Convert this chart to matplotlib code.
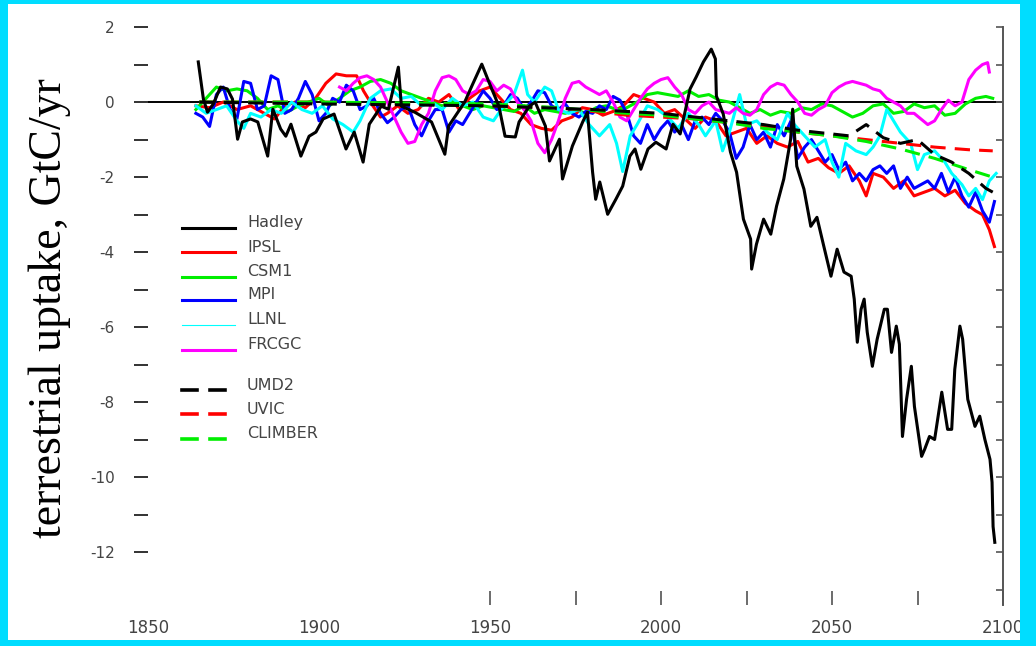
import matplotlib
matplotlib.use("Agg")
import matplotlib.pyplot as plt
from matplotlib.patches import Rectangle
from matplotlib.lines import Line2D

# ---------------- data (year, GtC/yr) ----------------
HADLEY = [(1864.7, 1.07), (1866.2, 0.08), (1867.4, -0.27), (1869.1, -0.05), (1871.2, 0.40), (1873.2, 0.35),
          (1874.7, 0.08), (1876.2, -0.99), (1877.6, -0.53), (1880.0, -0.45), (1882.1, -0.53), (1885.0, -1.44),
          (1886.5, -0.19), (1888.8, -0.72), (1890.3, -0.91), (1891.8, -0.59), (1894.7, -1.44), (1897.1, -0.91),
          (1899.1, -0.80), (1901.2, -0.45), (1904.4, -0.32), (1907.9, -1.25), (1910.3, -0.80), (1912.9, -1.60),
          (1914.7, -0.59), (1918.2, -0.11), (1920.3, -0.19), (1923.2, 0.93), (1924.1, -0.11), (1928.0, -0.27),
          (1932.9, -0.53), (1936.8, -1.39), (1937.9, -0.64), (1942.6, 0.0), (1944.7, 0.43), (1947.6, 1.01),
          (1949.7, 0.53), (1952.6, -0.11), (1954.4, -0.91), (1957.4, -0.93), (1958.5, -0.53), (1961.5, -0.11),
          (1963.2, 0.0), (1966.2, -0.64), (1967.4, -1.57), (1970.3, -0.99), (1971.2, -2.05), (1974.1, -1.17),
          (1977.1, -0.53), (1978.5, -0.27), (1980.0, -1.87), (1980.9, -2.59), (1982.1, -2.13), (1984.4, -2.99),
          (1986.8, -2.59), (1988.8, -2.24), (1990.9, -1.44), (1992.4, -1.25), (1994.1, -1.79), (1996.2, -1.25),
          (1998.5, -1.07), (2001.5, -1.25), (2003.5, -0.59), (2005.6, -0.85), (2008.5, 0.35), (2010.3, 0.67),
          (2012.4, 1.07), (2014.7, 1.41), (2015.9, 1.15), (2016.2, 0.16), (2018.2, -0.32), (2020.3, -1.33),
          (2022.1, -1.87), (2024.1, -3.12), (2026.2, -3.65), (2026.5, -4.45), (2027.9, -3.79), (2030.0, -3.12),
          (2032.1, -3.52), (2033.8, -2.77), (2035.9, -2.05), (2037.9, -0.99), (2038.5, -0.19), (2039.7, -1.71),
          (2041.8, -2.32), (2043.8, -3.31), (2045.6, -3.07), (2047.6, -3.84), (2049.7, -4.64), (2051.5, -3.92),
          (2053.5, -4.53), (2055.6, -4.64), (2056.5, -5.25), (2057.4, -6.40), (2058.5, -5.52), (2059.4, -5.25),
          (2060.3, -6.13), (2061.8, -7.04), (2063.2, -6.32), (2065.3, -5.52), (2066.2, -5.52), (2067.4, -6.67),
          (2068.8, -5.97), (2069.7, -6.45), (2070.6, -8.91), (2071.8, -7.92), (2073.2, -7.04), (2074.1, -8.11),
          (2076.2, -9.44), (2077.1, -9.25), (2078.5, -8.91), (2080.0, -8.99), (2082.1, -7.73), (2083.8, -8.72),
          (2085.0, -8.72), (2085.9, -7.12), (2087.4, -5.97), (2088.2, -6.32), (2089.7, -7.92), (2091.8, -8.64),
          (2093.2, -8.37), (2094.7, -8.99), (2096.2, -9.52), (2096.8, -10.13), (2097.1, -11.31), (2097.6, -11.73)]

IPSL = [(1864, -0.1), (1868, -0.15), (1872, 0.0), (1876, -0.2), (1880, -0.1), (1884, -0.3), (1887, -0.45),
        (1890, -0.1), (1893, 0.0), (1896, -0.15), (1899, 0.1), (1902, 0.5), (1905, 0.75), (1908, 0.7),
        (1911, 0.7), (1913, 0.3), (1915, 0.0), (1918, -0.4), (1920, -0.3), (1923, -0.1), (1926, -0.3),
        (1929, -0.2), (1932, 0.1), (1935, 0.0), (1938, 0.2), (1941, -0.2), (1944, 0.1), (1947, 0.3),
        (1950, 0.4), (1953, 0.1), (1956, -0.2), (1959, -0.3), (1962, -0.6), (1965, -0.7), (1968, -0.75),
        (1971, -0.5), (1974, -0.4), (1977, -0.15), (1980, -0.2), (1983, -0.35), (1986, -0.25), (1989, -0.1),
        (1992, 0.2), (1995, 0.1), (1998, 0.0), (2001, -0.3), (2004, -0.2), (2007, -0.45), (2010, -0.7),
        (2013, -0.4), (2016, -0.5), (2019, -0.9), (2022, -0.8), (2025, -0.7), (2028, -1.1), (2031, -0.9),
        (2034, -1.1), (2037, -1.2), (2040, -1.05), (2043, -1.6), (2046, -1.5), (2049, -1.75), (2052, -1.9),
        (2055, -1.7), (2058, -2.1), (2060, -2.5), (2062, -1.9), (2065, -2.0), (2068, -2.3), (2071, -2.1),
        (2074, -2.5), (2077, -2.4), (2080, -2.3), (2083, -2.5), (2086, -2.35), (2089, -2.7), (2092, -2.9),
        (2094, -3.0), (2096, -3.4), (2097.5, -3.85)]

CSM1 = [(1864, -0.2), (1867, 0.1), (1870, 0.4), (1873, 0.3), (1876, 0.35), (1879, 0.3), (1882, 0.1),
        (1885, -0.2), (1888, -0.1), (1891, -0.25), (1894, -0.1), (1897, 0.0), (1900, 0.1), (1903, -0.1),
        (1906, 0.1), (1909, 0.3), (1912, 0.4), (1915, 0.55), (1918, 0.6), (1921, 0.5), (1924, 0.3),
        (1927, 0.2), (1930, 0.1), (1933, 0.0), (1936, -0.1), (1939, 0.0), (1942, -0.1), (1945, -0.2),
        (1948, -0.1), (1951, -0.15), (1954, -0.2), (1957, -0.25), (1960, -0.1), (1963, -0.3), (1966, -0.2),
        (1969, -0.25), (1972, -0.3), (1975, -0.2), (1978, -0.3), (1981, -0.15), (1984, -0.1), (1987, -0.2),
        (1990, -0.15), (1993, 0.0), (1996, 0.2), (1999, 0.25), (2002, 0.2), (2005, 0.15), (2008, 0.3),
        (2011, 0.15), (2014, 0.2), (2017, 0.05), (2020, 0.0), (2023, -0.15), (2026, -0.3), (2029, -0.2),
        (2032, -0.35), (2035, -0.25), (2038, -0.3), (2041, -0.15), (2044, -0.2), (2047, -0.05), (2050, -0.1),
        (2053, -0.25), (2056, -0.4), (2059, -0.3), (2062, -0.1), (2065, -0.05), (2068, -0.3), (2071, -0.25),
        (2074, -0.05), (2077, -0.15), (2080, -0.1), (2083, -0.35), (2086, -0.3), (2089, -0.05), (2092, 0.1),
        (2095, 0.15), (2097, 0.1)]

MPI = [(1864, -0.3), (1866, -0.4), (1868, -0.65), (1870, 0.2), (1872, 0.4), (1874, -0.2), (1876, -0.45),
       (1878, 0.55), (1880, 0.5), (1882, -0.2), (1884, -0.1), (1886, 0.7), (1888, 0.6), (1890, -0.3),
       (1892, -0.2), (1894, 0.1), (1896, 0.55), (1898, 0.2), (1900, -0.5), (1902, -0.3), (1904, 0.1),
       (1906, 0.0), (1908, 0.45), (1910, 0.3), (1912, -0.2), (1914, -0.1), (1916, 0.1), (1918, -0.3),
       (1920, -0.55), (1922, -0.4), (1924, -0.2), (1926, -0.1), (1928, -0.6), (1930, -0.9), (1932, -0.5),
       (1934, -0.2), (1936, -0.2), (1938, -0.8), (1940, -0.5), (1942, -0.6), (1944, -0.3), (1946, 0.0),
       (1948, 0.3), (1950, 0.1), (1952, -0.2), (1954, -0.1), (1956, 0.2), (1958, 0.1), (1960, -0.2),
       (1962, 0.0), (1964, 0.3), (1966, 0.25), (1968, -0.1), (1970, -0.2), (1972, -0.05), (1974, -0.3),
       (1976, -0.4), (1978, -0.25), (1980, -0.3), (1982, -0.1), (1984, -0.2), (1986, 0.15), (1988, 0.05),
       (1990, -0.3), (1992, -0.9), (1994, -1.1), (1996, -0.6), (1998, -1.0), (2000, -0.7), (2002, -0.5),
       (2004, -0.8), (2006, -0.6), (2008, -1.0), (2010, -0.5), (2012, -0.4), (2014, -0.6), (2016, -0.3),
       (2018, -0.5), (2020, -0.8), (2022, -1.5), (2024, -1.2), (2026, -0.6), (2028, -1.0), (2030, -0.8),
       (2032, -1.2), (2034, -0.6), (2036, -0.9), (2038, -0.5), (2040, -1.5), (2042, -1.2), (2044, -1.0),
       (2046, -1.3), (2048, -1.6), (2050, -1.4), (2052, -1.8), (2054, -1.6), (2056, -2.1), (2058, -1.9),
       (2060, -2.1), (2062, -1.8), (2064, -1.7), (2066, -1.9), (2068, -1.7), (2070, -2.3), (2072, -2.0),
       (2074, -2.3), (2076, -2.2), (2078, -2.1), (2080, -2.3), (2082, -1.9), (2084, -2.4), (2086, -2.0),
       (2088, -2.5), (2090, -2.8), (2092, -2.4), (2094, -2.9), (2096, -3.2), (2097.5, -2.65)]

LLNL = [(1864, -0.1), (1867, -0.3), (1870, -0.2), (1873, -0.1), (1876, -0.5), (1878, -0.7), (1880, -0.3),
        (1883, -0.4), (1886, -0.2), (1889, -0.3), (1892, 0.0), (1895, -0.2), (1898, -0.3), (1901, -0.1),
        (1904, -0.45), (1907, -0.6), (1910, -0.8), (1912, -0.5), (1915, 0.1), (1918, 0.3), (1921, 0.35),
        (1924, 0.1), (1927, 0.15), (1930, -0.1), (1933, 0.0), (1936, -0.2), (1939, 0.1), (1942, -0.1),
        (1945, 0.0), (1948, -0.4), (1951, -0.5), (1954, -0.1), (1957, 0.2), (1959.5, 0.85), (1961, 0.2),
        (1963, 0.0), (1966, 0.4), (1968, 0.3), (1970, -0.2), (1973, -0.3), (1976, -0.2), (1979, -0.6),
        (1982, -0.9), (1985, -0.6), (1987, -1.1), (1988.8, -1.85), (1991, -0.9), (1993, -0.6), (1996, -0.1),
        (1999, -0.2), (2002, -0.4), (2005, -0.7), (2008, -0.3), (2011, -0.6), (2013, -0.9), (2016, -0.5),
        (2018, -1.3), (2020, -0.8), (2023, 0.2), (2025, -0.6), (2028, -0.5), (2031, -0.8), (2034, -1.0),
        (2037, -0.3), (2039, -0.6), (2042, -0.9), (2045, -1.2), (2048, -1.0), (2050, -1.6), (2052, -2.0),
        (2054, -1.1), (2057, -1.3), (2060, -1.4), (2062, -1.2), (2064, -0.9), (2066, -0.2), (2068, -0.5),
        (2070, -0.8), (2073, -1.1), (2075, -1.8), (2077, -1.4), (2080, -1.3), (2083, -1.6), (2085, -1.9),
        (2088, -2.2), (2090, -2.5), (2092, -2.3), (2094, -2.6), (2096, -2.1), (2098, -1.9)]

FRCGC = [(1906, 0.4), (1908, 0.3), (1910, 0.5), (1912, 0.65), (1914, 0.7), (1916, 0.6), (1918, 0.4),
         (1920, 0.0), (1922, -0.4), (1924, -0.8), (1926, -1.1), (1928, -1.05), (1930, -0.6), (1932, -0.3),
         (1934, 0.3), (1936, 0.65), (1938, 0.7), (1940, 0.6), (1942, 0.3), (1944, 0.2), (1946, 0.3),
         (1948, 0.6), (1950, 0.55), (1952, 0.3), (1954, 0.45), (1956, 0.35), (1958, 0.0), (1960, -0.2),
         (1962, -0.5), (1964, -1.1), (1966, -1.35), (1968, -1.0), (1970, -0.5), (1972, 0.1), (1974, 0.5),
         (1976, 0.55), (1978, 0.4), (1980, 0.3), (1982, 0.2), (1984, 0.3), (1986, 0.0), (1988, -0.4),
         (1990, -0.5), (1992, -0.2), (1994, 0.1), (1996, 0.35), (1998, 0.5), (2000, 0.6), (2002, 0.65),
         (2004, 0.4), (2006, 0.2), (2008, -0.2), (2010, -0.3), (2012, -0.1), (2014, 0.0), (2016, -0.2),
         (2018, -0.25), (2020, -0.3), (2022, -0.15), (2024, -0.3), (2026, -0.35), (2028, -0.2), (2030, 0.2),
         (2032, 0.4), (2034, 0.5), (2036, 0.45), (2038, 0.2), (2040, 0.0), (2042, -0.3), (2044, -0.35),
         (2046, -0.2), (2048, -0.1), (2050, 0.25), (2052, 0.4), (2054, 0.5), (2056, 0.55), (2058, 0.5),
         (2060, 0.45), (2062, 0.35), (2064, 0.3), (2066, 0.1), (2068, 0.0), (2070, -0.1), (2072, -0.3),
         (2074, -0.3), (2076, -0.45), (2078, -0.6), (2080, -0.5), (2082, -0.2), (2084, 0.05), (2086, -0.1),
         (2088, 0.0), (2090, 0.6), (2092, 0.85), (2094, 1.0), (2095.5, 1.05), (2096, 0.8)]

UMD2 = [(1865, 0.0), (1900, -0.05), (1950, -0.1), (1980, -0.2), (2000, -0.3), (2010, -0.4), (2020, -0.5),
        (2030, -0.6), (2040, -0.75), (2050, -0.85), (2055, -0.9), (2060, -0.6), (2065, -0.95), (2070, -1.1),
        (2075, -1.0), (2080, -1.4), (2085, -1.6), (2090, -1.9), (2095, -2.3), (2097, -2.4)]

UVIC = [(1865, 0.0), (1900, 0.0), (1930, -0.05), (1950, -0.1), (1970, -0.15), (1980, -0.25), (1990, -0.35),
        (2000, -0.4), (2010, -0.45), (2020, -0.55), (2030, -0.65), (2040, -0.8), (2050, -0.9), (2060, -1.0),
        (2070, -1.1), (2080, -1.2), (2090, -1.27), (2097, -1.3)]

CLIMBER = [(1865, 0.0), (1900, 0.0), (1950, -0.05), (1970, -0.15), (1990, -0.3), (2000, -0.35), (2010, -0.45),
           (2020, -0.55), (2030, -0.7), (2040, -0.8), (2050, -0.9), (2060, -1.05), (2070, -1.25), (2080, -1.5),
           (2090, -1.8), (2097, -2.0)]

solid_names = ["Hadley", "IPSL", "CSM1", "MPI", "LLNL", "FRCGC"]
dashed_names = ["UMD2", "UVIC", "CLIMBER"]
y_tick_values = [2, 0, -2, -4, -6, -8, -10, -12]
y_tick_labels = ["2", "0", "-2", "-4", "-6", "-8", "-10", "-12"]
x_tick_values = [1850, 1900, 1950, 2000, 2050, 2100]
x_tick_labels = ["1850", "1900", "1950", "2000", "2050", "2100"]
y_label = "terrestrial uptake, GtC/yr"

# ---------------- figure ----------------
W, H = 1036, 646
BG = "#00DDFF"
fig = plt.figure(figsize=(W / 100, H / 100), dpi=100, facecolor=BG)


def fx(px):
    return px / W


def fy(py):
    return 1 - py / H


fig.add_artist(Rectangle((fx(8), fy(640)), fx(1020) - fx(8), fy(4) - fy(640),
                         transform=fig.transFigure, facecolor="white", edgecolor="none", zorder=-5))

ax_left, ax_right, ax_top, ax_bot = 148, 1003, 27, 605
ax = fig.add_axes([fx(ax_left), fy(ax_bot), fx(ax_right) - fx(ax_left), fy(ax_top) - fy(ax_bot)])
ax.set_facecolor("none")
ax.set_xlim(1850, 2100)
ax.set_ylim(-13.4, 2.0)

for s in ["left", "top", "bottom"]:
    ax.spines[s].set_visible(False)
ax.spines["right"].set_color("#555555")
ax.spines["right"].set_linewidth(1.4)

ax.set_yticks(y_tick_values)
ax.set_yticklabels(y_tick_labels)
ax.set_yticks([1, -1, -3, -5, -7, -9, -11], minor=True)
ax.tick_params(axis="y", which="both", direction="out", length=10, width=1.3, color="#222222",
               labelsize=11, labelcolor="#444444", pad=14, right=False)
ax.set_xticks(x_tick_values)
ax.set_xticklabels(x_tick_labels)
ax.set_xticks([1975, 2025, 2075], minor=True)
ax.tick_params(axis="x", which="both", direction="in", length=10, width=1.1, color="#444444",
               labelsize=12, labelcolor="#444444", pad=10)
# the reference shows no tick marks at 1850 and 1900
for t in ax.xaxis.get_major_ticks()[:2]:
    t.tick1line.set_visible(False)

ax2 = ax.twinx()
ax2.set_ylim(ax.get_ylim())
for s in ["left", "top", "bottom", "right"]:
    ax2.spines[s].set_visible(False)
ax2.set_yticks(list(range(-13, 3)))
ax2.tick_params(axis="y", direction="in", length=5, width=1.2, color="#555555", labelright=False)

# zero line
ax.axhline(0, color="black", lw=1.4, zorder=1)

LW = 2.2
series = [(IPSL, "#FF0000", "-"), (CSM1, "#00EE00", "-"), (MPI, "#0000FF", "-"),
          (LLNL, "#00FFFF", "-"), (FRCGC, "#FF00FF", "-"),
          (UVIC, "#FF0000", (0, (5, 3))), (CLIMBER, "#00EE00", (0, (5, 3))), (UMD2, "#000000", (0, (5, 3))),
          (HADLEY, "#000000", "-")]
for data, col, ls in series:
    xs, ys = zip(*data)
    ax.plot(xs, ys, color=col, lw=LW, ls=ls, zorder=3)

# legend (manual)
solid_cols = ["#000000", "#FF0000", "#00EE00", "#0000FF", "#00FFFF", "#FF00FF"]
solid_y = [228, 252, 277, 300, 325, 350]
for name, col, yy in zip(solid_names, solid_cols, solid_y):
    lw = 0.8 if name == "LLNL" else 2.2
    fig.add_artist(Line2D([fx(182), fx(235)], [fy(yy), fy(yy)], color=col, lw=lw, transform=fig.transFigure))
    fig.text(fx(247), fy(yy - 5), name, fontsize=11.5, color="#444444", va="center", ha="left")
dashed_cols = ["#000000", "#FF0000", "#00EE00"]
dashed_y = [390, 414, 439]
for name, col, yy in zip(dashed_names, dashed_cols, dashed_y):
    for x0, x1 in [(182, 197), (210, 225)]:
        fig.add_artist(Line2D([fx(x0), fx(x1)], [fy(yy), fy(yy)], color=col, lw=2.6, transform=fig.transFigure))
    fig.text(fx(247), fy(yy - 5), name, fontsize=11.5, color="#444444", va="center", ha="left")

fig.text(fx(50), fy(308), y_label, rotation=90, fontsize=33, family="Liberation Serif",
         color="black", ha="center", va="center")

# cyan border clipping the right edge
fig.add_artist(Rectangle((fx(1020), 0), 1 - fx(1020), 1, transform=fig.transFigure,
                         facecolor=BG, edgecolor="none", zorder=10))

fig.savefig("out.png", dpi=100, facecolor=BG)
